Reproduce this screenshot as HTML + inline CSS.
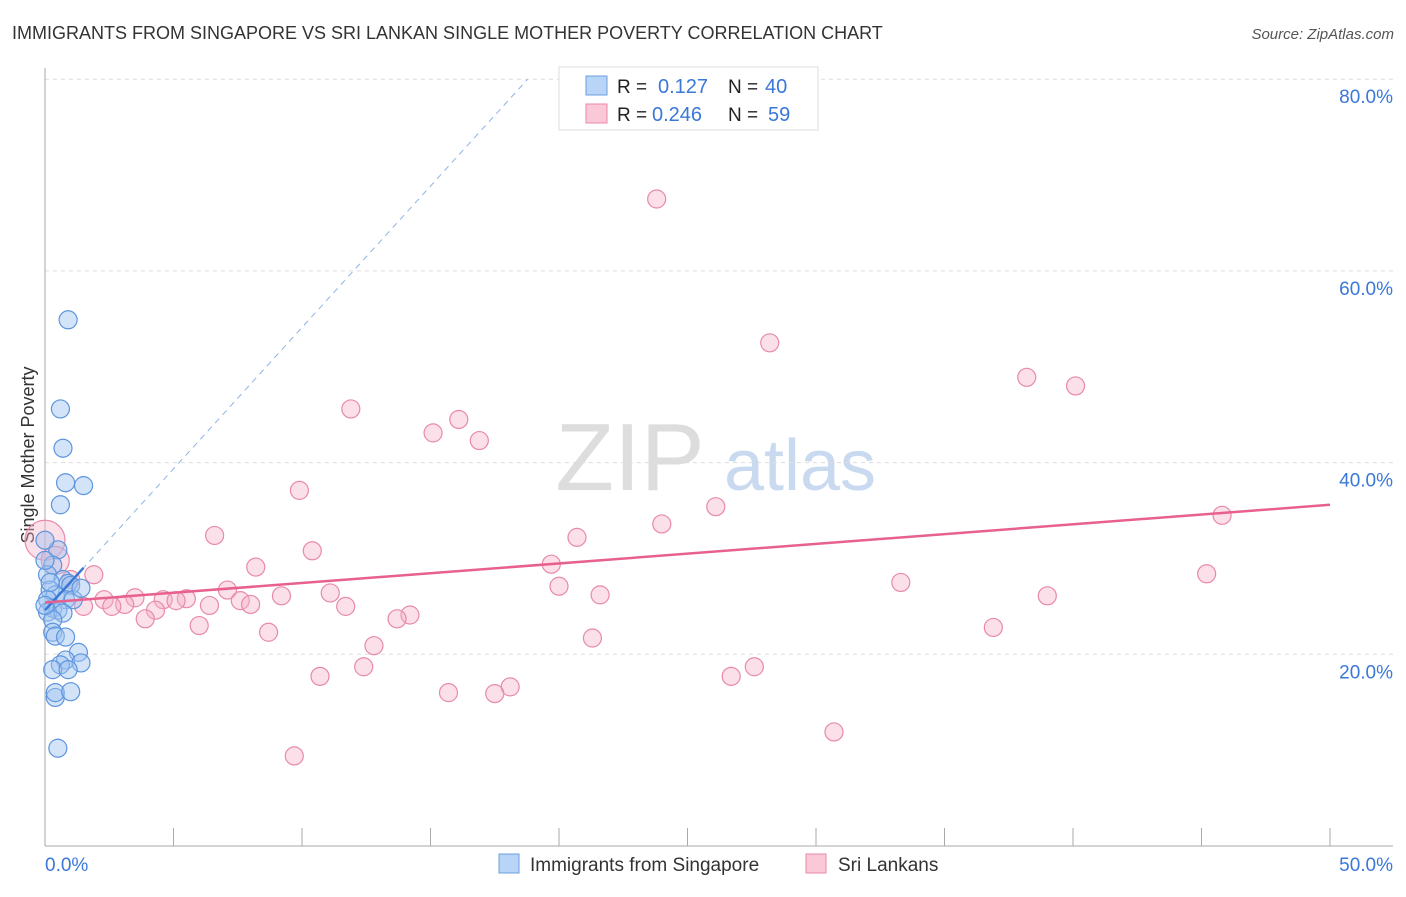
<!DOCTYPE html>
<html><head><meta charset="utf-8"><style>
body{margin:0;background:#fff;font-family:"Liberation Sans",sans-serif}
svg text{font-family:"Liberation Sans",sans-serif}
</style></head><body>
<svg id="chart" width="1406" height="892">
<text x="12" y="39" font-size="18" fill="#333">IMMIGRANTS FROM SINGAPORE VS SRI LANKAN SINGLE MOTHER POVERTY CORRELATION CHART</text>
<text x="1394" y="39" font-size="15" fill="#555" text-anchor="end" font-style="italic">Source: ZipAtlas.com</text>
<text x="630" y="490" font-size="96" fill="#ddd" font-family="Liberation Serif" text-anchor="middle">ZIP</text>
<text x="800" y="490" font-size="72" fill="#c9daf0" text-anchor="middle">atlas</text>
<text transform="translate(34,455) rotate(-90)" font-size="18" fill="#333" text-anchor="middle">Single Mother Poverty</text>
<g id="grid"></g><g id="marks"></g>
<g>
<rect x="559" y="67" width="259" height="63" fill="#fff" stroke="#ddd"/>
<rect x="586" y="76" width="21" height="19" fill="#b8d4f6" stroke="#6a9fe0"/>
<rect x="586" y="104" width="21" height="19" fill="#fbc8d8" stroke="#e88aa8"/>
<text x="617" y="93" font-size="19" fill="#222">R = </text><text x="658" y="93" font-size="20" fill="#3a78d8">0.127</text>
<text x="728" y="93" font-size="19" fill="#222">N = </text><text x="765" y="93" font-size="20" fill="#3a78d8">40</text>
<text x="617" y="121" font-size="19" fill="#222">R = </text><text x="652" y="121" font-size="20" fill="#3a78d8">0.246</text>
<text x="728" y="121" font-size="19" fill="#222">N = </text><text x="768" y="121" font-size="20" fill="#3a78d8">59</text>
</g>
<g>
<rect x="499" y="854" width="20" height="19" fill="#b8d4f6" stroke="#6a9fe0"/>
<text x="530" y="871" font-size="19" fill="#333">Immigrants from Singapore</text>
<rect x="806" y="854" width="20" height="19" fill="#fbc8d8" stroke="#e88aa8"/>
<text x="838" y="871" font-size="19" fill="#333">Sri Lankans</text>
</g>
</svg>
<script>
const blueX=[0.9,0.6,0.7,0.8,1.5,0.6,0.5,0.0,0.3,0.1,0.7,0.9,0.2,1.0,0.4,0.8,0.1,1.1,0.3,0.5,0.1,0.7,0.3,0.3,0.4,0.8,1.3,0.8,1.4,0.6,0.3,0.9,0.4,0.4,1.0,0.5,0.2,0.0,1.4,0.0];
const blueY=[54.9,45.6,41.5,37.9,37.6,35.6,30.9,31.9,29.3,28.3,27.8,27.4,26.7,27.2,26.2,25.7,25.7,25.7,24.8,24.6,24.4,24.3,23.6,22.3,21.9,21.8,20.2,19.4,19.1,18.9,18.4,18.4,15.5,16.0,16.1,10.2,27.5,25.1,26.9,29.8];
const pinkX=[23.8,28.2,38.2,40.1,11.9,16.1,15.1,16.9,9.9,26.1,24.0,45.8,6.6,20.7,10.4,19.7,8.2,1.9,45.2,33.3,20.0,7.1,11.1,9.2,21.6,39.0,2.3,3.5,4.6,5.5,5.1,7.6,3.1,2.6,1.5,8.0,6.4,11.7,4.3,14.2,13.7,3.9,6.0,36.9,8.7,21.3,12.8,12.4,27.6,26.7,10.7,18.1,15.7,17.5,30.7,9.7,1.0,0.0,0.4];
const pinkY=[67.5,52.5,48.9,48.0,45.6,44.5,43.1,42.3,37.1,35.4,33.6,34.5,32.4,32.2,30.8,29.4,29.1,28.3,28.4,27.5,27.1,26.7,26.4,26.1,26.2,26.1,25.7,25.9,25.7,25.8,25.6,25.6,25.2,25.0,25.0,25.2,25.1,25.0,24.6,24.1,23.7,23.7,23.0,22.8,22.3,21.7,20.9,18.7,18.7,17.7,17.7,16.6,16.0,15.9,11.9,9.4,27.8,31.9,29.8];
const pinkR=[9,9,9,9,9,9,9,9,9,9,9,9,9,9,9,9,9,9,9,9,9,9,9,9,9,9,9,9,9,9,9,9,9,9,9,9,9,9,9,9,9,9,9,9,9,9,9,9,9,9,9,9,9,9,9,9,9,20,14];
const yTicks=[20,40,60,80];
const xTickLabels=["0.0%","50.0%"];
const blueTrend=[24.6,2.95];
const pinkTrend=[25.4,0.204];
const NS="http://www.w3.org/2000/svg";
const X=v=>45+v/50*1285, Y=v=>846-v/20*191.7;
function mk(tag,attrs,parent){const e=document.createElementNS(NS,tag);for(const k in attrs)e.setAttribute(k,attrs[k]);parent.appendChild(e);return e;}
const g=document.getElementById('grid'), m=document.getElementById('marks');
yTicks.forEach(t=>{
 const l=mk('line',{x1:45,x2:1393,y1:Y(t),y2:Y(t),stroke:'#ddd','stroke-dasharray':'4,4'},g);
 
 
 const tx=mk('text',{x:1393,y:Y(t)+24,'font-size':19,fill:'#3a78d8','text-anchor':'end'},g);
 tx.textContent=t.toFixed(1)+'%';
 
 
});
const ax=mk('line',{x1:45,x2:45,y1:68,y2:846,stroke:'#aaa'},g);


const bx=mk('line',{x1:45,x2:1393,y1:846,y2:846,stroke:'#aaa'},g);


for(let i=1;i<=10;i++){const t=mk('line',{x1:X(i*5),x2:X(i*5),y1:828,y2:846,stroke:'#aaa'},g);
 
 }
[[0,'start'],[50,'end']].forEach((p,i)=>{const t=mk('text',{x:i?1393:45,y:871,'font-size':19,fill:'#3a78d8','text-anchor':p[1]},g);t.textContent=xTickLabels[i];
 
 });
pinkX.forEach((x,i)=>{const c=mk('circle',{cx:X(x),cy:Y(pinkY[i]),r:pinkR[i],fill:'rgba(246,175,200,0.4)',stroke:'#e88aa8','stroke-width':1.2},m);
 
 });
blueX.forEach((x,i)=>{const c=mk('circle',{cx:X(x),cy:Y(blueY[i]),r:9,fill:'rgba(160,196,240,0.45)',stroke:'#5d95de','stroke-width':1.2},m);
 
 });
const bEnd=(80-blueTrend[0])/blueTrend[1];
const bd=mk('line',{x1:X(0),y1:Y(blueTrend[0]),x2:X(bEnd),y2:Y(80),stroke:'#8fb3e6','stroke-dasharray':'6,5','stroke-width':1},m);


const bs=mk('line',{x1:X(0),y1:Y(blueTrend[0]),x2:X(1.5),y2:Y(blueTrend[0]+1.5*blueTrend[1]),stroke:'#3a78d8','stroke-width':2.5},m);


const ps=mk('line',{x1:X(0),y1:Y(pinkTrend[0]),x2:X(50),y2:Y(pinkTrend[0]+50*pinkTrend[1]),stroke:'#e8608f','stroke-width':2.5},m);


</script>
</body></html>
